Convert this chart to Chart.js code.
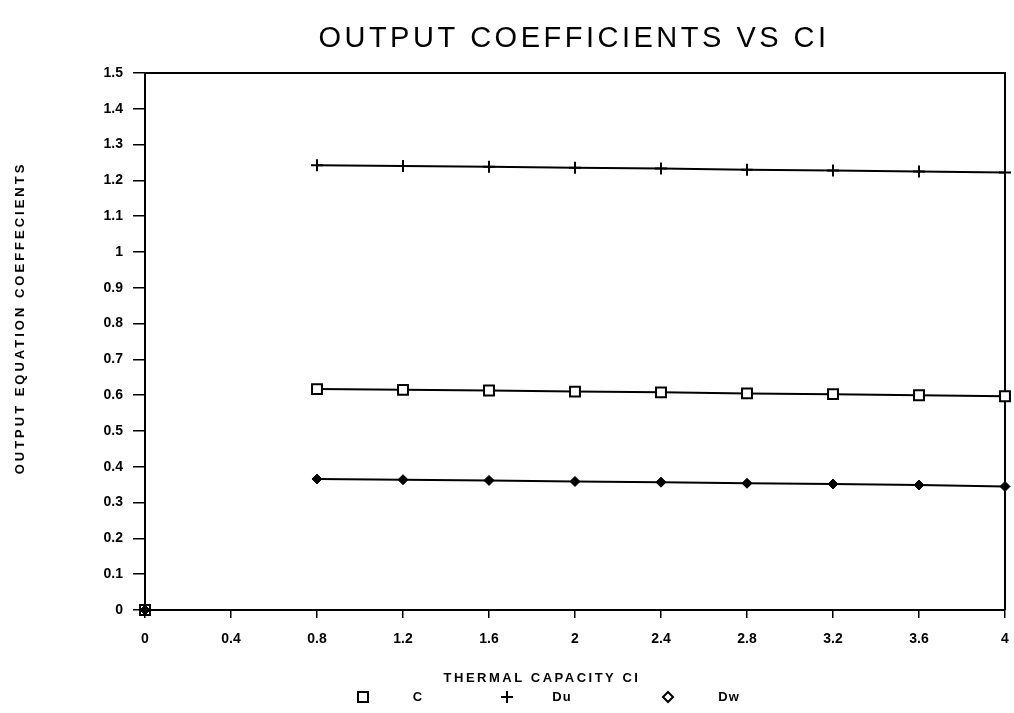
<!DOCTYPE html>
<html>
<head>
<meta charset="utf-8">
<script src="https://cdn.jsdelivr.net/npm/chart.js@4/dist/chart.umd.min.js"></script>
<style>
  html, body { margin: 0; padding: 0; background: #fff; }
  #wrap { width: 1014px; height: 713px; }
</style>
</head>
<body>
<div id="wrap"><canvas id="grafico"></canvas></div>
<script>
// valores
var capacidad = [0, 0.4, 0.8, 1.2, 1.6, 2.0, 2.4, 2.8, 3.2, 3.6, 4.0];
var serieC  = [0, null, 0.617, 0.615, 0.613, 0.610, 0.608, 0.605, 0.603, 0.600, 0.597];
var serieDu = [0, null, 1.242, 1.240, 1.238, 1.235, 1.233, 1.230, 1.228, 1.225, 1.222];
var serieDw = [0, null, 0.366, 0.364, 0.362, 0.359, 0.357, 0.354, 0.352, 0.349, 0.345];
var ticksX = [0, 0.4, 0.8, 1.2, 1.6, 2, 2.4, 2.8, 3.2, 3.6, 4];
var ticksY = [0, 0.1, 0.2, 0.3, 0.4, 0.5, 0.6, 0.7, 0.8, 0.9, 1, 1.1, 1.2, 1.3, 1.4, 1.5];
var nombres = ['C', 'Du', 'Dw'];
var titulo = 'OUTPUT COEFFICIENTS VS CI';

function pares(valores) {
  return capacidad.map(function(x, i) { return {x: x, y: valores[i]}; });
}

var fuenteEje = {family: 'Liberation Sans', size: 14, weight: 'bold'};

// marco, titulos y leyenda
var extras = {
  id: 'extras',
  beforeDatasetsDraw: function(chart) {
    var ctx = chart.ctx, a = chart.chartArea;
    ctx.save();
    ctx.strokeStyle = '#000';
    ctx.lineWidth = 2;
    ctx.beginPath();
    ctx.moveTo(a.left, a.top);
    ctx.lineTo(a.right, a.top);
    ctx.lineTo(a.right, a.bottom);
    ctx.stroke();
    ctx.restore();
  },
  afterDraw: function(chart) {
    var ctx = chart.ctx;
    ctx.save();
    ctx.fillStyle = '#000';
    ctx.strokeStyle = '#000';
    ctx.textAlign = 'center';
    ctx.textBaseline = 'middle';

    ctx.font = '29px "Liberation Sans"';
    ctx.letterSpacing = '3.5px';
    ctx.fillText(titulo, 574, 39);

    ctx.font = 'bold 13px "Liberation Sans"';
    ctx.letterSpacing = '2.5px';
    ctx.fillText('THERMAL CAPACITY CI', 542, 678);

    ctx.save();
    ctx.translate(20, 318);
    ctx.rotate(-Math.PI / 2);
    ctx.letterSpacing = '3px';
    ctx.fillText('OUTPUT EQUATION COEFFECIENTS', 0, 0);
    ctx.restore();

    // leyenda
    var yl = 697;
    var marcas = [363, 507, 668];
    var textos = [418, 562, 729];
    ctx.letterSpacing = '1px';
    ctx.lineWidth = 2;
    ctx.strokeRect(marcas[0] - 5, yl - 5, 10, 10);
    ctx.beginPath();
    ctx.moveTo(marcas[1] - 6, yl); ctx.lineTo(marcas[1] + 6, yl);
    ctx.moveTo(marcas[1], yl - 6); ctx.lineTo(marcas[1], yl + 6);
    ctx.stroke();
    ctx.beginPath();
    ctx.moveTo(marcas[2], yl - 5); ctx.lineTo(marcas[2] + 5, yl);
    ctx.lineTo(marcas[2], yl + 5); ctx.lineTo(marcas[2] - 5, yl);
    ctx.closePath();
    ctx.stroke();
    for (var i = 0; i < nombres.length; i++) {
      ctx.fillText(nombres[i], textos[i], yl);
    }
    ctx.restore();
  }
};

new Chart(document.getElementById('grafico'), {
  type: 'line',
  data: {
    datasets: [
      {
        label: nombres[0],
        data: pares(serieC),
        order: 3,
        borderColor: '#000',
        borderWidth: 2,
        clip: false,
        pointStyle: 'rect',
        pointRadius: 7,
        pointBorderWidth: 2,
        pointBackgroundColor: '#fff',
        pointBorderColor: '#000'
      },
      {
        label: nombres[1],
        data: pares(serieDu),
        order: 2,
        borderColor: '#000',
        borderWidth: 2,
        clip: false,
        pointStyle: 'cross',
        pointRadius: 6,
        pointBorderWidth: 2,
        pointBorderColor: '#000'
      },
      {
        label: nombres[2],
        data: pares(serieDw),
        order: 1,
        borderColor: '#000',
        borderWidth: 2,
        clip: false,
        pointStyle: 'rectRot',
        pointRadius: 5,
        pointBorderWidth: 1,
        pointBackgroundColor: '#000',
        pointBorderColor: '#000'
      }
    ]
  },
  options: {
    responsive: true,
    maintainAspectRatio: false,
    animation: false,
    spanGaps: false,
    layout: {padding: {left: 0, right: 7, top: 73, bottom: 0}},
    plugins: {
      legend: {display: false},
      tooltip: {enabled: false},
      title: {display: false}
    },
    scales: {
      x: {
        type: 'linear',
        min: 0,
        max: 4,
        afterBuildTicks: function(eje) { eje.ticks = ticksX.map(function(v) { return {value: v}; }); },
        afterFit: function(eje) { eje.height = 103; eje.paddingRight = 0; eje.paddingLeft = 0; },
        grid: {drawOnChartArea: false, color: '#000', lineWidth: 1.5, tickLength: 8},
        border: {color: '#000', width: 2},
        ticks: {color: '#000', font: fuenteEje, padding: 13, maxRotation: 0,
                callback: function(v) { return String(v); }}
      },
      y: {
        type: 'linear',
        min: 0,
        max: 1.5,
        afterBuildTicks: function(eje) { eje.ticks = ticksY.map(function(v) { return {value: v}; }); },
        afterFit: function(eje) { eje.width = 145; eje.paddingTop = 0; eje.paddingBottom = 0; },
        grid: {drawOnChartArea: false, color: '#000', lineWidth: 1.5, tickLength: 12},
        border: {color: '#000', width: 2},
        ticks: {color: '#000', font: fuenteEje, padding: 10,
                callback: function(v) { return String(Math.round(v * 10) / 10); }}
      }
    }
  },
  plugins: [extras]
});
</script>
</body>
</html>
